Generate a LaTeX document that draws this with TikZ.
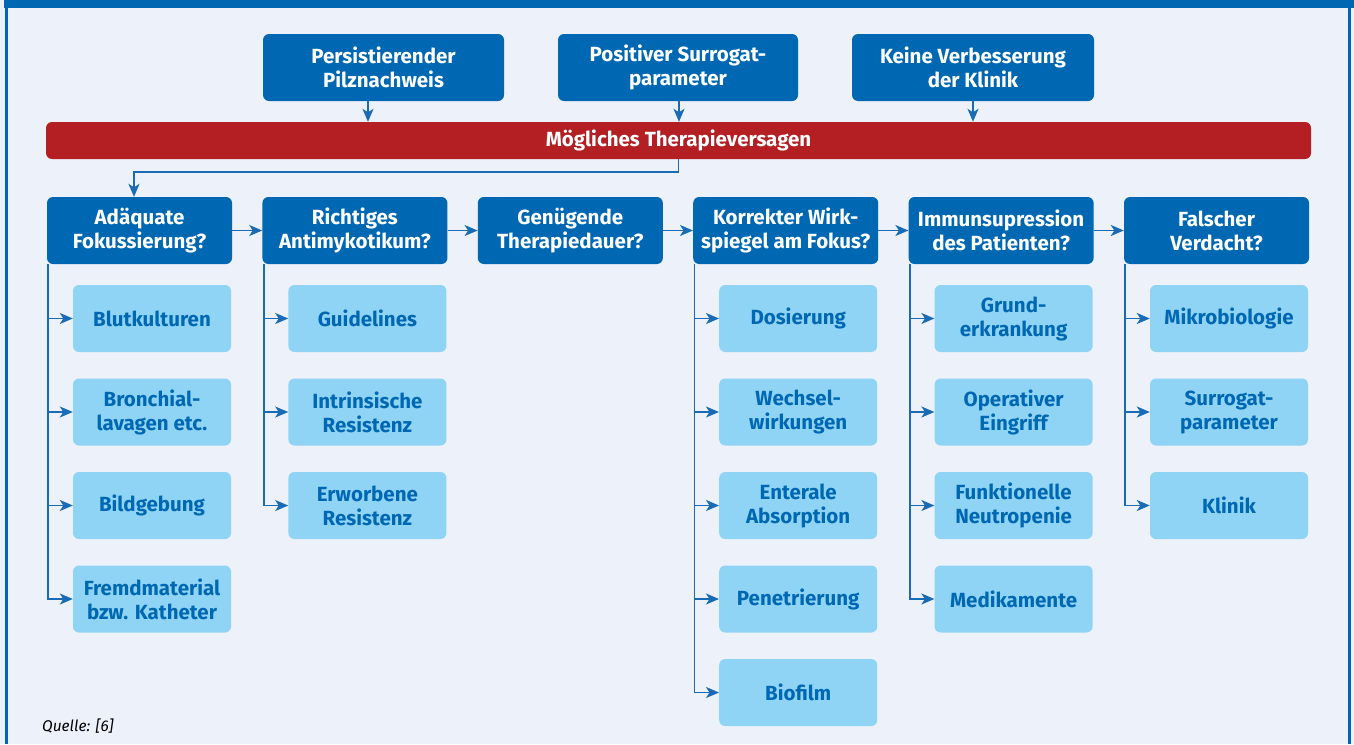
\documentclass[tikz,border=0pt]{standalone}
\usepackage{fontspec}
\setmainfont{Fira Sans}
\usetikzlibrary{arrows.meta,calc}
\definecolor{dblue}{HTML}{0068B3}
\definecolor{lblue}{HTML}{8FD4F5}
\definecolor{bg}{HTML}{EDF1FA}
\definecolor{dred}{HTML}{B31F22}
\definecolor{lcol}{HTML}{1A6BB5}
\tikzset{
  mainbox/.style={fill=dblue, rounded corners=6pt, text=white, font=\fontsize{20.5}{24}\selectfont\bfseries, align=center, inner sep=0pt, minimum height=67pt},
  subbox/.style={fill=lblue, rounded corners=6pt, text=dblue, font=\fontsize{20.5}{24}\selectfont\bfseries, align=center, inner sep=0pt, minimum width=158pt, minimum height=67pt},
  redbar/.style={fill=dred, rounded corners=6pt, text=white, font=\fontsize{20.5}{24}\selectfont\bfseries, inner sep=0pt, minimum width=1265pt, minimum height=37pt},
  arr/.style={draw=lcol, line width=1.7pt, -{Stealth[length=13pt,width=11pt,inset=3.5pt]}},
}
\begin{document}
\begin{tikzpicture}[x=1pt,y=-1pt]
\useasboundingbox (0,0) rectangle (1354,744);
\fill[bg] (0,0) rectangle (1354,744);
\fill[dblue] (4,0) rectangle (1354,8);
\draw[dblue, line width=3pt] (6,0) -- (6,744);
\draw[dblue, line width=3pt] (1349.5,0) -- (1349.5,744);

% top boxes
\node[mainbox, minimum width=241pt] (p1) at (383.5,67.5) {Persistierender\\Pilznachweis};
\node[mainbox, minimum width=240pt] (p2) at (678,67.5) {Positiver Surrogat-\\parameter};
\node[mainbox, minimum width=242pt] (p3) at (973,67.5) {Keine Verbesserung\\der Klinik};

\node[redbar] (red) at (678.5,140.5) {Mögliches Therapieversagen};

\draw[arr] ([xshift=-15.5pt]p1.south) -- ([xshift=-15.5pt]p1.south |- red.north);
\draw[arr] ([xshift=1pt]p2.south) -- ([xshift=1pt]p2.south |- red.north);
\draw[arr] (p3.south) -- (p3.south |- red.north);

% row 2
\node[mainbox, minimum width=185pt] (a1) at (139.5,230.5) {Adäquate\\Fokussierung?};
\node[mainbox, minimum width=185pt] (a2) at (354.9,230.5) {Richtiges\\Antimykotikum?};
\node[mainbox, minimum width=185pt] (a3) at (570.3,230.5) {Genügende\\Therapiedauer?};
\node[mainbox, minimum width=185pt] (a4) at (785.7,230.5) {Korrekter Wirk-\\spiegel am Fokus?};
\node[mainbox, minimum width=185pt] (a5) at (1001.1,230.5) {Immunsupression\\des Patienten?};
\node[mainbox, minimum width=185pt] (a6) at (1216.5,230.5) {Falscher\\Verdacht?};

\coordinate (k) at (134,172);
\draw[arr] (red.south) |- (k) -- (k |- a1.north);

\draw[arr] (a1.east) -- (a2.west);
\draw[arr] (a2.east) -- (a3.west);
\draw[arr] (a3.east) -- (a4.west);
\draw[arr] (a4.east) -- (a5.west);
\draw[arr] (a5.east) -- (a6.west);

% children
\def\ya{318.5}\def\yb{412}\def\yc{505.5}\def\yd{599}\def\ye{692.5}
\node[subbox] (b1) at (152,\ya) {Blutkulturen};
\node[subbox] (b2) at (152,\yb) {Bronchial-\\lavagen etc.};
\node[subbox] (b3) at (152,\yc) {Bildgebung};
\node[subbox] (b4) at (152,\yd) {Fremdmaterial\\bzw. Katheter};

\node[subbox] (c1) at (367.4,\ya) {Guidelines};
\node[subbox] (c2) at (367.4,\yb) {Intrinsische\\Resistenz};
\node[subbox] (c3) at (367.4,\yc) {Erworbene\\Resistenz};

\node[subbox] (d1) at (798.2,\ya) {Dosierung};
\node[subbox] (d2) at (798.2,\yb) {Wechsel-\\wirkungen};
\node[subbox] (d3) at (798.2,\yc) {Enterale\\Absorption};
\node[subbox] (d4) at (798.2,\yd) {Penetrierung};
\node[subbox] (d5) at (798.2,\ye) {Biofilm};

\node[subbox] (e1) at (1013.6,\ya) {Grund-\\erkrankung};
\node[subbox] (e2) at (1013.6,\yb) {Operativer\\Eingriff};
\node[subbox] (e3) at (1013.6,\yc) {Funktionelle\\Neutropenie};
\node[subbox] (e4) at (1013.6,\yd) {Medikamente};

\node[subbox] (f1) at (1229,\ya) {Mikrobiologie};
\node[subbox] (f2) at (1229,\yb) {Surrogat-\\parameter};
\node[subbox] (f3) at (1229,\yc) {Klinik};

\foreach \col/\kids in {a1/{b1,b2,b3,b4}, a2/{c1,c2,c3}, a4/{d1,d2,d3,d4,d5}, a5/{e1,e2,e3,e4}, a6/{f1,f2,f3}}{
  \foreach \kid in \kids {
    \draw[arr] ([xshift=1.5pt]\col.south west) |- (\kid.west);
  }
}

\node[anchor=base west, font=\fontsize{15.5}{18}\selectfont\itshape, inner sep=0pt] (q) at (42,731) {Quelle: [6]};
\end{tikzpicture}
\end{document}
